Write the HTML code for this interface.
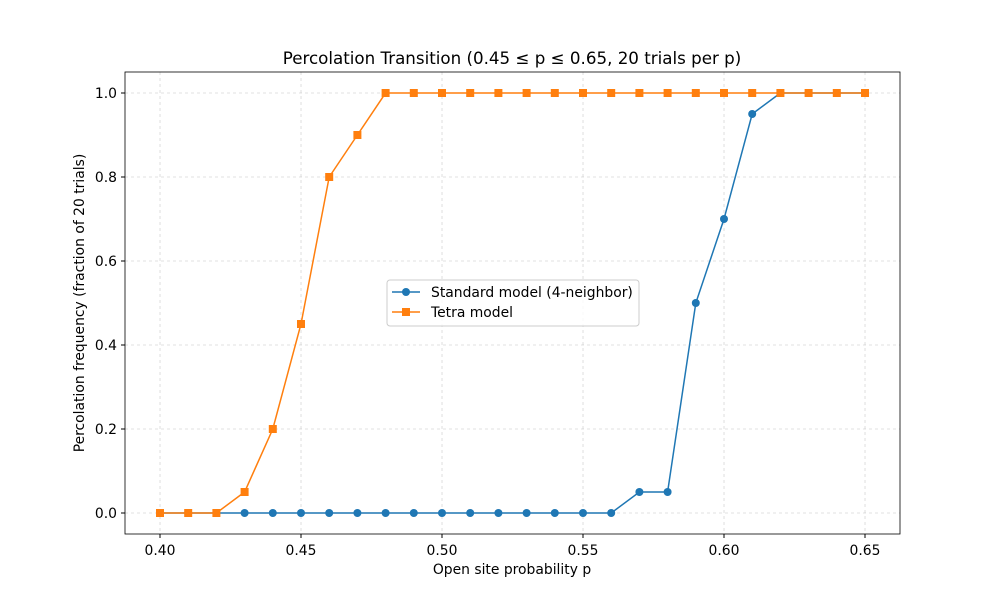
<!DOCTYPE html>
<html><head><meta charset="utf-8"><style>body{margin:0;background:#fff}svg{font-family:"DejaVu Sans","Liberation Sans",sans-serif}</style></head>
<body>
<svg id="c" width="1000" height="600"></svg>
<script>
const ps=[0.40,0.41,0.42,0.43,0.44,0.45,0.46,0.47,0.48,0.49,0.50,0.51,0.52,0.53,0.54,0.55,0.56,0.57,0.58,0.59,0.60,0.61,0.62,0.63,0.64,0.65];
const standard=[0,0,0,0,0,0,0,0,0,0,0,0,0,0,0,0,0,0.05,0.05,0.5,0.7,0.95,1,1,1,1];
const tetra=[0,0,0,0.05,0.2,0.45,0.8,0.9,1,1,1,1,1,1,1,1,1,1,1,1,1,1,1,1,1,1];
const xTicks=[0.40,0.45,0.50,0.55,0.60,0.65];
const yTicks=[0,0.2,0.4,0.6,0.8,1.0];
const NS="http://www.w3.org/2000/svg",svg=document.getElementById('c');
const X=v=>160+(v-0.40)/0.25*705, Y=v=>513-v*420;
function el(t,a,p){const e=document.createElementNS(NS,t);for(const k in a)e.setAttribute(k,a[k]);(p||svg).appendChild(e);return e;}
const L=125,R=900,T=72,B=534;
xTicks.forEach(v=>{const x=X(v);
 const g=el('line',{x1:x,x2:x,y1:T,y2:B,stroke:'#b0b0b0','stroke-width':0.8,'stroke-dasharray':'3,3',opacity:0.5});
 
 el('line',{x1:x,x2:x,y1:B,y2:B+4,stroke:'#000'});
 const t=el('text',{x:x,y:B+21,'text-anchor':'middle','font-size':13.9});t.textContent=v.toFixed(2);
 });
yTicks.forEach(v=>{const y=Y(v);
 const g=el('line',{x1:L,x2:R,y1:y,y2:y,stroke:'#b0b0b0','stroke-width':0.8,'stroke-dasharray':'3,3',opacity:0.5});
 
 el('line',{x1:L-4,x2:L,y1:y,y2:y,stroke:'#000'});
 const t=el('text',{x:L-8,y:y+5,'text-anchor':'end','font-size':13.9});t.textContent=v.toFixed(1);
 });
function series(vals,color,marker,name){
 const pl=el('polyline',{points:ps.map((p,i)=>X(p)+','+Y(vals[i])).join(' '),fill:'none',stroke:color,'stroke-width':1.5});
 
 ps.forEach((p,i)=>{let m;
  if(marker==='o')m=el('circle',{cx:X(p),cy:Y(vals[i]),r:4,fill:color});
  else m=el('rect',{x:X(p)-4,y:Y(vals[i])-4,width:8,height:8,fill:color});
  });
}
series(standard,'#1f77b4','o','standard');
series(tetra,'#ff7f0e','s','tetra');
const fr=el('rect',{x:L,y:T,width:R-L,height:B-T,fill:'none',stroke:'#000','stroke-width':0.8});

const ti=el('text',{x:512,y:64,'text-anchor':'middle','font-size':16.7});ti.textContent='Percolation Transition (0.45 ≤ p ≤ 0.65, 20 trials per p)';

const xl=el('text',{x:512,y:574,'text-anchor':'middle','font-size':13.9});xl.textContent='Open site probability p';

const yl=el('text',{x:84,y:303,'text-anchor':'middle','font-size':13.9,transform:'rotate(-90 84 303)'});yl.textContent='Percolation frequency (fraction of 20 trials)';

const lg=el('g',{});
el('rect',{x:387,y:280,width:252,height:46,rx:3,fill:'#fff',stroke:'#ccc','fill-opacity':0.8},lg);
[['Standard model (4-neighbor)','#1f77b4','o',292],['Tetra model','#ff7f0e','s',312]].forEach(([n,c,m,y])=>{
 const g=el('g',{},lg);
 el('line',{x1:392,x2:420,y1:y,y2:y,stroke:c,'stroke-width':1.5},g);
 if(m==='o')el('circle',{cx:406,cy:y,r:4,fill:c},g);else el('rect',{x:402,y:y-4,width:8,height:8,fill:c},g);
 const t=el('text',{x:431,y:y+5,'font-size':13.9},g);t.textContent=n;});
</script>
</body></html>
